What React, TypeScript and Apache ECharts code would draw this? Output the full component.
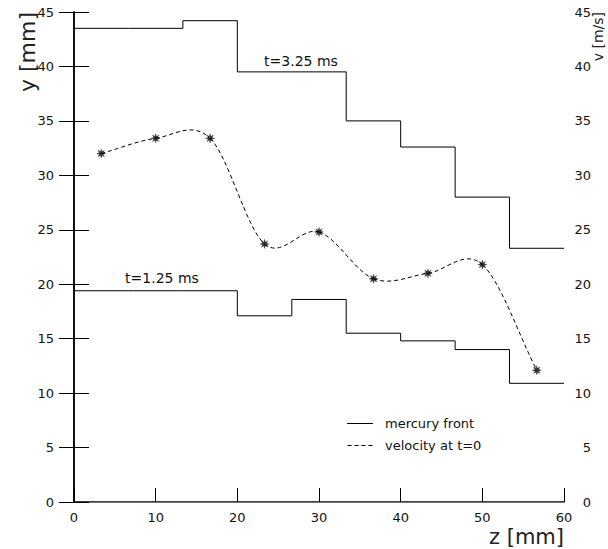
import React, { useEffect, useRef } from "react";
import * as echarts from "echarts";

// Bin edges along z [mm] for the mercury front profiles
const binEdges = [0, 6.67, 13.33, 20, 26.67, 33.33, 40, 46.67, 53.33, 60];
// Front height y [mm] in each bin
const front325 = [43.5, 43.5, 44.2, 39.5, 39.5, 35.0, 32.6, 28.0, 23.3];
const front125 = [19.4, 19.4, 19.4, 17.1, 18.6, 15.5, 14.8, 14.0, 10.9];

// Initial velocity samples at bin centres
const velZ = [3.33, 10, 16.67, 23.33, 30, 36.67, 43.33, 50, 56.67];
const velV = [32.0, 33.4, 33.4, 23.7, 24.8, 20.5, 21.0, 21.8, 12.1];

const xTicks = [0, 10, 20, 30, 40, 50, 60];
const yTicks = [0, 5, 10, 15, 20, 25, 30, 35, 40, 45];

const FONT = "DejaVu Sans";
const INK = "#111";

// step 'end': each bin's value is held until the next edge
function stepData(values: number[]) {
  const pts: [number, number][] = values.map((v, i) => [binEdges[i], v]);
  pts.push([binEdges[binEdges.length - 1], values[values.length - 1]]);
  return pts;
}

// eight-spoke asterisk marker
function asteriskPath() {
  const outer = 5;
  const inner = 2.1;
  const parts: string[] = [];
  for (let k = 0; k < 16; k++) {
    const r = k % 2 === 0 ? outer : inner;
    const a = (k * Math.PI) / 8;
    const x = (r * Math.cos(a)).toFixed(3);
    const y = (r * Math.sin(a)).toFixed(3);
    parts.push(`${k === 0 ? "M" : "L"}${x},${y}`);
  }
  return "path://" + parts.join(" ") + " Z";
}

// legend glyphs: a solid stroke and a dashed stroke
const solidIcon = "path://M0,0 H26 V1 H0 Z";
const dashedIcon =
  "path://M0,0 H4 V1 H0 Z M7,0 H11 V1 H7 Z M14,0 H18 V1 H14 Z M21,0 H25 V1 H21 Z";

// Catmull-Rom segment from point i to i+1, drawn in pixel space
function splineSegment(params: any, api: any) {
  const i = params.dataIndex;
  const n = velZ.length;
  if (i >= n - 1) return null;
  const P = velZ.map((z, k) => api.coord([z, velV[k]]));
  const tangent = (k: number) => {
    const a = P[Math.max(k - 1, 0)];
    const b = P[Math.min(k + 1, n - 1)];
    const f = k === 0 || k === n - 1 ? 1 : 0.5;
    return [(b[0] - a[0]) * f, (b[1] - a[1]) * f];
  };
  const p0 = P[i];
  const p1 = P[i + 1];
  const m0 = tangent(i);
  const m1 = tangent(i + 1);
  return {
    type: "bezierCurve",
    shape: {
      x1: p0[0],
      y1: p0[1],
      cpx1: p0[0] + m0[0] / 3,
      cpy1: p0[1] + m0[1] / 3,
      cpx2: p1[0] - m1[0] / 3,
      cpy2: p1[1] - m1[1] / 3,
      x2: p1[0],
      y2: p1[1],
    },
    style: { stroke: "#000", lineWidth: 1, lineDash: [4, 3], fill: null },
    silent: true,
  };
}

export default function App() {
  const ref = useRef<HTMLDivElement>(null);

  useEffect(() => {
    if (!ref.current) return;
    const chart = echarts.init(ref.current, null, { renderer: "svg" });

    const tickLabel = { fontFamily: FONT, fontSize: 13, color: INK };

    chart.setOption({
      animation: false,
      backgroundColor: "#fff",
      grid: { left: 74, top: 12, width: 490, height: 490 },
      xAxis: [
        {
          type: "value",
          min: xTicks[0],
          max: xTicks[xTicks.length - 1],
          interval: 10,
          position: "bottom",
          splitLine: { show: false },
          axisLine: { show: true, lineStyle: { color: "#000", width: 1.5 } },
          axisTick: { show: true, inside: true, length: 14, lineStyle: { color: "#000", width: 1 } },
          axisLabel: { ...tickLabel, margin: 9 },
        },
        {
          type: "value",
          min: xTicks[0],
          max: xTicks[xTicks.length - 1],
          position: "top",
          splitLine: { show: false },
          axisLine: { show: true, lineStyle: { color: "#777", width: 1 } },
          axisTick: { show: false },
          axisLabel: { show: false },
        },
      ],
      yAxis: [
        {
          type: "value",
          min: yTicks[0],
          max: yTicks[yTicks.length - 1],
          interval: 5,
          position: "left",
          splitLine: { show: false },
          axisLine: { show: true, lineStyle: { color: "#000", width: 1.5 } },
          axisTick: { show: true, inside: true, length: 15, lineStyle: { color: "#000", width: 1 } },
          axisLabel: { ...tickLabel, margin: 20 },
        },
        {
          type: "value",
          min: yTicks[0],
          max: yTicks[yTicks.length - 1],
          interval: 5,
          position: "right",
          splitLine: { show: false },
          axisLine: { show: true, lineStyle: { color: "#000", width: 1.5 } },
          axisTick: { show: true, inside: true, length: 15, lineStyle: { color: "#000", width: 1 } },
          axisLabel: { ...tickLabel, margin: 27, align: "right" },
        },
      ],
      legend: {
        left: 342,
        top: 412,
        orient: "vertical",
        itemWidth: 26,
        itemHeight: 1,
        itemGap: 9,
        data: [
          { name: "mercury front", icon: solidIcon },
          { name: "velocity at t=0", icon: dashedIcon },
        ],
        textStyle: { fontFamily: FONT, fontSize: 13, color: INK, padding: [0, 0, 0, 7] },
      },
      series: [
        {
          name: "mercury front",
          type: "line",
          step: "end",
          symbol: "none",
          data: stepData(front325),
          lineStyle: { color: "#000", width: 1 },
          itemStyle: { color: "#000" },
        },
        {
          name: "mercury front",
          type: "line",
          step: "end",
          symbol: "none",
          data: stepData(front125),
          lineStyle: { color: "#000", width: 1 },
          itemStyle: { color: "#000" },
        },
        {
          name: "velocity at t=0",
          type: "custom",
          yAxisIndex: 1,
          renderItem: splineSegment,
          data: velZ.map((z, i) => [z, velV[i]]),
          itemStyle: { color: "#000" },
          z: 2,
        },
        {
          name: "velocity points",
          type: "scatter",
          yAxisIndex: 1,
          symbol: asteriskPath(),
          symbolSize: 9,
          data: velZ.map((z, i) => [z, velV[i]]),
          itemStyle: { color: "#000", borderColor: "#000", borderWidth: 0.4 },
          z: 3,
        },
      ],
      graphic: [
        {
          type: "text",
          x: 27,
          y: 12,
          rotation: Math.PI / 2,
          style: { text: "y [mm]", fontFamily: FONT, fontSize: 22, fill: "#222", align: "right", verticalAlign: "middle" },
        },
        {
          type: "text",
          x: 598,
          y: 12,
          rotation: Math.PI / 2,
          style: { text: "v [m/s]", fontFamily: FONT, fontSize: 14, fill: "#222", align: "right", verticalAlign: "middle" },
        },
        {
          type: "text",
          x: 564,
          y: 547,
          style: { text: "z [mm]", fontFamily: FONT, fontSize: 21, fill: "#222", align: "right", verticalAlign: "bottom" },
        },
        {
          type: "text",
          x: 301,
          y: 61,
          style: { text: "t=3.25 ms", fontFamily: FONT, fontSize: 14, fill: INK, align: "center", verticalAlign: "middle" },
        },
        {
          type: "text",
          x: 162,
          y: 278,
          style: { text: "t=1.25 ms", fontFamily: FONT, fontSize: 14, fill: INK, align: "center", verticalAlign: "middle" },
        },
      ],
    });

    return () => chart.dispose();
  }, []);

  return (
    <div
      ref={ref}
      style={{ position: "fixed", left: 0, top: 0, width: 608, height: 549 }}
    />
  );
}
